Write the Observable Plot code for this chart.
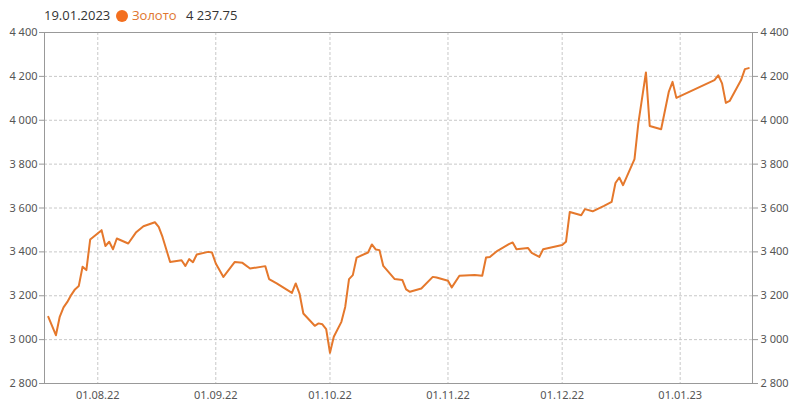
<!DOCTYPE html>
<html>
<head>
<meta charset="utf-8">
<script src="https://cdn.jsdelivr.net/npm/d3@7"></script>
<script src="https://cdn.jsdelivr.net/npm/@observablehq/plot@0.6"></script>
<style>
  html, body { margin: 0; padding: 0; background: #fff; }
  #wrap { width: 795px; height: 407px; position: relative; overflow: hidden; }
  #header { height: 24px; position: relative; font-family: "Open Sans", "Noto Sans", sans-serif; font-size: 13px; color: #333; }
  #header span { position: absolute; top: 6px; line-height: 18px; white-space: nowrap; }
  #header .dot { width: 12px; height: 12px; border-radius: 50%; background: #f36f1f; top: 10px; }
  #chart svg { display: block; }
</style>
</head>
<body>
<div id="wrap">
  <div id="header">
    <span id="hdate" style="left:44px">19.01.2023</span>
    <span class="dot" style="left:116px"></span>
    <span id="hname" style="left:132px; color:#e0762f">Золото</span>
    <span id="hval" style="left:186px">4 237.75</span>
  </div>
  <div id="chart"></div>
</div>
<script>
const dates = [
  "2022-07-19","2022-07-21","2022-07-22","2022-07-23","2022-07-24","2022-07-25","2022-07-26","2022-07-27","2022-07-28","2022-07-29","2022-07-30",
  "2022-08-02","2022-08-03","2022-08-04","2022-08-05","2022-08-06","2022-08-09","2022-08-11","2022-08-13","2022-08-16","2022-08-17","2022-08-18",
  "2022-08-20","2022-08-23","2022-08-24","2022-08-25","2022-08-26","2022-08-27","2022-08-30","2022-08-31","2022-09-01","2022-09-03","2022-09-06",
  "2022-09-08","2022-09-10","2022-09-14","2022-09-15","2022-09-17","2022-09-21","2022-09-22","2022-09-23","2022-09-24","2022-09-27","2022-09-28",
  "2022-09-29","2022-09-30","2022-10-01","2022-10-02","2022-10-04","2022-10-05","2022-10-06","2022-10-07","2022-10-08","2022-10-11","2022-10-12",
  "2022-10-13","2022-10-14","2022-10-15","2022-10-18","2022-10-20","2022-10-21","2022-10-22","2022-10-25","2022-10-28","2022-10-29","2022-11-01",
  "2022-11-02","2022-11-04","2022-11-08","2022-11-10","2022-11-11","2022-11-12","2022-11-14","2022-11-17","2022-11-18","2022-11-19","2022-11-22",
  "2022-11-23","2022-11-25","2022-11-26","2022-12-01","2022-12-02","2022-12-03","2022-12-06","2022-12-07","2022-12-09","2022-12-12","2022-12-14",
  "2022-12-15","2022-12-16","2022-12-17","2022-12-20","2022-12-21","2022-12-23","2022-12-24","2022-12-27","2022-12-29","2022-12-30","2022-12-31",
  "2023-01-10","2023-01-11","2023-01-12","2023-01-13","2023-01-14","2023-01-17","2023-01-18","2023-01-19"
];
const values = [
  3104,3020,3104,3147,3172,3203,3229,3244,3332,3317,3456,
  3499,3427,3446,3412,3461,3438,3488,3517,3535,3514,3468,
  3354,3362,3336,3367,3353,3388,3400,3397,3347,3286,3354,
  3350,3324,3335,3276,3256,3213,3256,3210,3119,3063,3074,
  3070,3048,2940,3013,3081,3149,3276,3294,3374,3397,3434,
  3411,3408,3336,3276,3272,3229,3218,3233,3286,3283,3268,
  3238,3291,3295,3291,3374,3377,3405,3435,3443,3412,3418,
  3395,3377,3412,3431,3446,3582,3567,3595,3585,3610,3628,
  3714,3739,3704,3823,3985,4218,3974,3959,4129,4175,4102,
  4183,4205,4168,4079,4088,4183,4233,4237.75
];
const xTicks = ["2022-08-01","2022-09-01","2022-10-01","2022-11-01","2022-12-01","2023-01-01"];
const yTicks = [2800,3000,3200,3400,3600,3800,4000,4200,4400];
const xDomain = ["2022-07-18","2023-01-20"];
const yDomain = [2800, 4400];

const data = dates.map((d, i) => ({date: new Date(d), value: values[i]}));
const xt = xTicks.map(d => new Date(d));
const fmtY = v => d3.format(",")(v).replace(/,/g, " ");
const fmtX = d3.utcFormat("%d.%m.%y");

const chart = Plot.plot({
  width: 795,
  height: 383,
  marginTop: 8,
  marginBottom: 24,
  marginLeft: 44,
  marginRight: 43,
  style: {fontFamily: "'Noto Sans', 'Open Sans', sans-serif", fontSize: "11px", color: "#555", background: "#fff"},
  x: {type: "utc", domain: xDomain.map(d => new Date(d))},
  y: {domain: yDomain},
  marks: [
    Plot.gridY(yTicks.slice(1, -1), {stroke: "#c8c8c8", strokeOpacity: 1, strokeDasharray: "3,2"}),
    Plot.gridX(xt, {stroke: "#c8c8c8", strokeOpacity: 1, strokeDasharray: "3,2"}),
    Plot.frame({stroke: "#999"}),
    Plot.axisY(yTicks, {anchor: "left", tickSize: 5, tickPadding: 2, tickFormat: fmtY, stroke: "#999", fill: "#555", label: null}),
    Plot.axisY(yTicks, {anchor: "right", tickSize: 5, tickPadding: 3, tickFormat: fmtY, stroke: "#999", fill: "#555", label: null}),
    Plot.axisX(xt, {anchor: "bottom", tickSize: 0, tickPadding: 8, tickFormat: fmtX, fill: "#555", label: null}),
    Plot.lineY(data, {x: "date", y: "value", stroke: "#e5782c", strokeWidth: 2, strokeLinejoin: "round"})
  ]
});
document.getElementById("chart").appendChild(chart);
</script>
</body>
</html>
